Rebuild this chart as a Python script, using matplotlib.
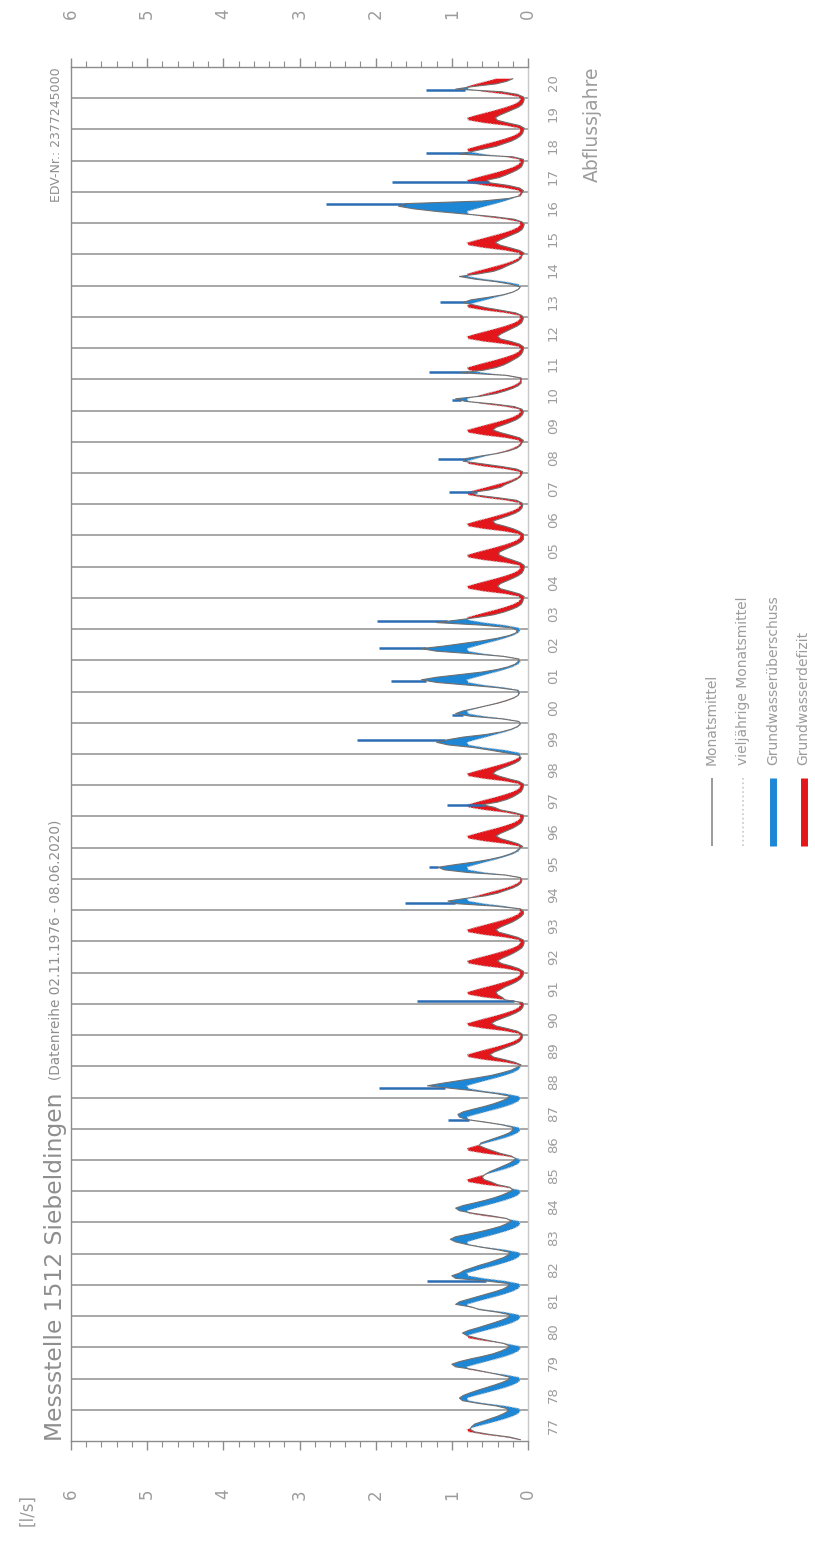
import numpy as np
import matplotlib
matplotlib.use("Agg")
import matplotlib.pyplot as plt
from matplotlib.ticker import MultipleLocator

# ---------------- data ----------------
hydro_years = list(range(1977, 2021))
year_labels = [f"{y % 100:02d}" for y in hydro_years]
month_names = ["Nov", "Dez", "Jan", "Feb", "Mär", "Apr", "Mai", "Jun", "Jul", "Aug", "Sep", "Okt"]

# long-term monthly mean (vieljährige Monatsmittel), Nov..Okt, l/s
longterm = [0.12, 0.30, 0.58, 0.78, 0.80, 0.68, 0.55, 0.42, 0.30, 0.20, 0.13, 0.10]

# monthly means (Monatsmittel) per hydrological year, Nov..Okt, l/s
q1977 = [0.10, 0.24, 0.50, 0.70, 0.76, 0.74, 0.70, 0.60, 0.50, 0.40, 0.32, 0.26]
q1978 = [0.28, 0.42, 0.66, 0.86, 0.90, 0.85, 0.76, 0.66, 0.55, 0.44, 0.34, 0.26]
q1979 = [0.24, 0.38, 0.55, 0.72, 0.95, 1.00, 0.90, 0.76, 0.60, 0.46, 0.36, 0.28]
q1980 = [0.24, 0.32, 0.50, 0.66, 0.80, 0.86, 0.78, 0.66, 0.55, 0.44, 0.34, 0.26]
q1981 = [0.24, 0.40, 0.64, 0.74, 0.95, 0.90, 0.78, 0.66, 0.54, 0.42, 0.32, 0.26]
q1982 = [0.26, 0.55, 0.95, 1.00, 0.90, 0.84, 0.74, 0.64, 0.52, 0.42, 0.32, 0.26]
q1983 = [0.24, 0.40, 0.62, 0.80, 0.95, 1.02, 0.95, 0.78, 0.62, 0.48, 0.36, 0.28]
q1984 = [0.22, 0.28, 0.48, 0.72, 0.90, 0.95, 0.85, 0.70, 0.56, 0.44, 0.34, 0.26]
q1985 = [0.20, 0.24, 0.40, 0.48, 0.58, 0.60, 0.56, 0.50, 0.42, 0.34, 0.26, 0.20]
q1986 = [0.16, 0.22, 0.36, 0.46, 0.56, 0.64, 0.62, 0.52, 0.42, 0.32, 0.24, 0.20]
q1987 = [0.20, 0.34, 0.55, 0.80, 0.90, 0.92, 0.85, 0.72, 0.58, 0.46, 0.36, 0.28]
q1988 = [0.24, 0.42, 0.68, 1.00, 1.32, 1.12, 0.90, 0.68, 0.48, 0.34, 0.22, 0.15]
q1989 = [0.09, 0.17, 0.30, 0.45, 0.50, 0.44, 0.35, 0.26, 0.17, 0.11, 0.08, 0.07]
q1990 = [0.08, 0.14, 0.27, 0.42, 0.48, 0.42, 0.33, 0.24, 0.16, 0.10, 0.07, 0.06]
q1991 = [0.07, 0.30, 0.34, 0.40, 0.42, 0.36, 0.30, 0.22, 0.15, 0.10, 0.07, 0.06]
q1992 = [0.06, 0.12, 0.22, 0.35, 0.40, 0.34, 0.26, 0.19, 0.13, 0.08, 0.06, 0.05]
q1993 = [0.06, 0.13, 0.25, 0.38, 0.42, 0.36, 0.28, 0.20, 0.14, 0.09, 0.06, 0.06]
q1994 = [0.10, 0.42, 0.95, 1.05, 0.82, 0.56, 0.40, 0.30, 0.20, 0.13, 0.09, 0.08]
q1995 = [0.10, 0.30, 0.80, 1.10, 1.18, 0.95, 0.70, 0.50, 0.35, 0.24, 0.16, 0.12]
q1996 = [0.07, 0.13, 0.24, 0.36, 0.42, 0.36, 0.28, 0.20, 0.14, 0.09, 0.07, 0.06]
q1997 = [0.06, 0.18, 0.36, 0.44, 0.60, 0.40, 0.28, 0.20, 0.14, 0.09, 0.07, 0.06]
q1998 = [0.06, 0.12, 0.26, 0.38, 0.46, 0.42, 0.34, 0.25, 0.17, 0.11, 0.09, 0.12]
q1999 = [0.30, 0.50, 0.72, 1.05, 1.20, 1.05, 0.85, 0.55, 0.35, 0.22, 0.14, 0.10]
q2000 = [0.12, 0.34, 0.75, 0.95, 0.86, 0.70, 0.55, 0.40, 0.28, 0.19, 0.13, 0.12]
q2001 = [0.14, 0.40, 0.80, 1.20, 1.40, 1.20, 0.90, 0.60, 0.40, 0.26, 0.17, 0.13]
q2002 = [0.12, 0.32, 0.72, 1.20, 1.40, 1.10, 0.85, 0.60, 0.40, 0.25, 0.16, 0.14]
q2003 = [0.22, 0.60, 1.20, 0.92, 0.66, 0.45, 0.32, 0.22, 0.14, 0.09, 0.07, 0.06]
q2004 = [0.05, 0.11, 0.23, 0.36, 0.40, 0.36, 0.28, 0.20, 0.13, 0.08, 0.06, 0.05]
q2005 = [0.05, 0.10, 0.20, 0.30, 0.38, 0.38, 0.31, 0.23, 0.15, 0.09, 0.06, 0.06]
q2006 = [0.06, 0.11, 0.19, 0.30, 0.43, 0.46, 0.36, 0.26, 0.17, 0.11, 0.08, 0.07]
q2007 = [0.08, 0.15, 0.40, 0.68, 0.74, 0.50, 0.36, 0.30, 0.22, 0.15, 0.10, 0.08]
q2008 = [0.07, 0.15, 0.35, 0.60, 0.85, 0.82, 0.62, 0.40, 0.25, 0.15, 0.10, 0.08]
q2009 = [0.06, 0.11, 0.23, 0.36, 0.46, 0.42, 0.32, 0.23, 0.15, 0.10, 0.07, 0.06]
q2010 = [0.08, 0.18, 0.45, 0.82, 0.95, 0.62, 0.42, 0.30, 0.20, 0.13, 0.09, 0.09]
q2011 = [0.09, 0.28, 0.88, 0.58, 0.42, 0.32, 0.25, 0.19, 0.13, 0.09, 0.07, 0.06]
q2012 = [0.06, 0.11, 0.22, 0.36, 0.40, 0.35, 0.28, 0.21, 0.14, 0.09, 0.07, 0.06]
q2013 = [0.08, 0.16, 0.35, 0.55, 0.70, 0.85, 0.75, 0.52, 0.32, 0.20, 0.13, 0.10]
q2014 = [0.22, 0.42, 0.70, 0.90, 0.65, 0.45, 0.35, 0.28, 0.20, 0.13, 0.09, 0.08]
q2015 = [0.05, 0.11, 0.23, 0.36, 0.43, 0.37, 0.29, 0.21, 0.13, 0.08, 0.06, 0.05]
q2016 = [0.08, 0.18, 0.45, 0.82, 1.20, 1.50, 1.70, 1.60, 0.60, 0.25, 0.10, 0.08]
q2017 = [0.06, 0.11, 0.26, 0.50, 0.54, 0.38, 0.29, 0.21, 0.14, 0.09, 0.07, 0.06]
q2018 = [0.06, 0.20, 0.90, 0.74, 0.58, 0.42, 0.32, 0.22, 0.15, 0.10, 0.07, 0.06]
q2019 = [0.05, 0.11, 0.26, 0.40, 0.43, 0.37, 0.29, 0.21, 0.13, 0.08, 0.06, 0.05]
q2020 = [0.06, 0.14, 0.35, 0.95, 0.72, 0.42, 0.28, 0.20]

monthly = [q1977, q1978, q1979, q1980, q1981, q1982, q1983, q1984, q1985, q1986,
           q1987, q1988, q1989, q1990, q1991, q1992, q1993, q1994, q1995, q1996,
           q1997, q1998, q1999, q2000, q2001, q2002, q2003, q2004, q2005, q2006,
           q2007, q2008, q2009, q2010, q2011, q2012, q2013, q2014, q2015, q2016,
           q2017, q2018, q2019, q2020]

# short high-flow peaks (daily maxima) within the year
peak_years = [1982, 1987, 1988, 1991, 1994, 1995, 1997, 1999, 2000, 2001, 2002,
              2003, 2007, 2008, 2010, 2011, 2013, 2016, 2017, 2018, 2020]
peak_months = [1.5, 3.4, 3.8, 1.0, 2.6, 4.5, 4.3, 5.2, 3.0, 4.2, 4.7,
               3.0, 4.8, 5.5, 4.0, 2.8, 5.8, 7.5, 3.8, 3.1, 3.3]
peak_values = [1.33, 1.05, 1.95, 1.46, 1.61, 1.30, 1.06, 2.25, 1.00, 1.80, 1.95,
               1.98, 1.04, 1.18, 1.00, 1.30, 1.15, 2.65, 1.78, 1.34, 1.34]

value_ticks = [0, 1, 2, 3, 4, 5, 6]

# ---------------- figure ----------------
W, H = 815, 1541
fig = plt.figure(figsize=(W / 100, H / 100), dpi=100)
fig.patch.set_facecolor("white")

ax_l, ax_r, ax_t, ax_b = 71, 528, 67, 1441
ax = fig.add_axes([ax_l / W, 1 - ax_b / H, (ax_r - ax_l) / W, (ax_b - ax_t) / H])

BLUE = "#1d87d6"
BLUE_D = "#2a6db4"
RED = "#e3161c"
TXT = "#9c9c9c"

# build time series (time in years since 1 Nov 1976, on vertical axis)
t, q, lt = [], [], []
for i, vals in enumerate(monthly):
    for m, v in enumerate(vals):
        t.append(i + (m + 0.5) / 12)
        q.append(v)
        lt.append(longterm[m])
t = np.array(t)
q = np.array(q)
lt = np.array(lt)

n_years = len(hydro_years)
ax.set_xlim(6, 0)
ax.set_ylim(0, n_years)

# year separators
ax.hlines(np.arange(1, n_years), 0, 6, color="#a0a0a0", lw=1.3, zorder=1)

# surplus / deficit fill
ax.fill_betweenx(t, q, lt, where=q >= lt, interpolate=True, color=BLUE, lw=0, zorder=2)
ax.fill_betweenx(t, q, lt, where=q < lt, interpolate=True, color=RED, lw=0, zorder=2)

# long-term monthly mean and monthly mean lines
ax.plot(lt, t, color="#c4c4c4", lw=0.9, ls=":", zorder=3)
ax.plot(q, t, color="#6f6f6f", lw=0.8, zorder=4)

# peaks
idx = {y: i for i, y in enumerate(hydro_years)}
for y, m, v in zip(peak_years, peak_months, peak_values):
    tp = idx[y] + m / 12
    base = np.interp(tp, t, q)
    ax.plot([base, v], [tp, tp], color=BLUE_D, lw=1.8, solid_capstyle="butt", zorder=3)

# axes styling
ax.set_yticks([])
ax.set_xticks(value_ticks)
ax.set_xticklabels([str(v) for v in value_ticks])
ax.xaxis.set_minor_locator(MultipleLocator(0.2))
ax.tick_params(axis="x", which="both", direction="out", top=True, bottom=True,
               labeltop=True, labelbottom=True, color="#8c8c8c",
               labelcolor=TXT, labelsize=12, labelrotation=90, pad=28)
ax.tick_params(axis="x", which="major", length=6.5, width=1.0)
ax.tick_params(axis="x", which="minor", length=4.0, width=0.8)
for side in ["left", "right", "top", "bottom"]:
    ax.spines[side].set_color("#8c8c8c")
    ax.spines[side].set_linewidth(1.0)
ax.spines["right"].set_color("#c8c8c8")

# year labels
ytr = ax.get_yaxis_transform()
for i, lab in enumerate(year_labels):
    ax.text(1.055, i + 0.5, lab, transform=ytr, rotation=90, ha="center",
            va="center", fontsize=9.5, color=TXT, clip_on=False)

ax.text(1.14, 1.0, "Abflussjahre", transform=ax.transAxes, rotation=90,
        ha="center", va="top", fontsize=13.5, color=TXT)

# title texts
ax.text(-0.035, 0.0, "Messstelle 1512 Siebeldingen", transform=ax.transAxes,
        rotation=90, ha="center", va="bottom", fontsize=16.8, color="#8e8e8e")
ax.text(-0.033, 0.263, "(Datenreihe 02.11.1976 - 08.06.2020)", transform=ax.transAxes,
        rotation=90, ha="center", va="bottom", fontsize=9.8, color="#8e8e8e")
ax.text(-0.031, 1.0, "EDV-Nr.: 2377245000", transform=ax.transAxes,
        rotation=90, ha="center", va="top", fontsize=9, color="#8e8e8e")

fig.text(27 / W, 1 - 1510 / H, "[l/s]", rotation=90, ha="center", va="center",
         fontsize=12, color=TXT)

# legend (drawn manually, rotated like the chart)
lax = fig.add_axes([0, 0, 1, 1])
lax.set_xlim(0, W)
lax.set_ylim(H, 0)
lax.axis("off")
legend_items = [("Monatsmittel", dict(color="#8a8a8a", lw=1.2, ls="-")),
                ("vieljährige Monatsmittel", dict(color="#c8c8c8", lw=1.2, ls=":")),
                ("Grundwasserüberschuss", dict(color=BLUE, lw=5, ls="-")),
                ("Grundwasserdefizit", dict(color=RED, lw=5, ls="-"))]
for k, (label, style) in enumerate(legend_items):
    x = 712 + 30.5 * k
    lax.plot([x, x], [778, 846], solid_capstyle="butt", **style)
    lax.text(x, 765, label, rotation=90, ha="center", va="bottom",
             fontsize=10, color=TXT)

fig.savefig("out.png", dpi=100, facecolor="white")
